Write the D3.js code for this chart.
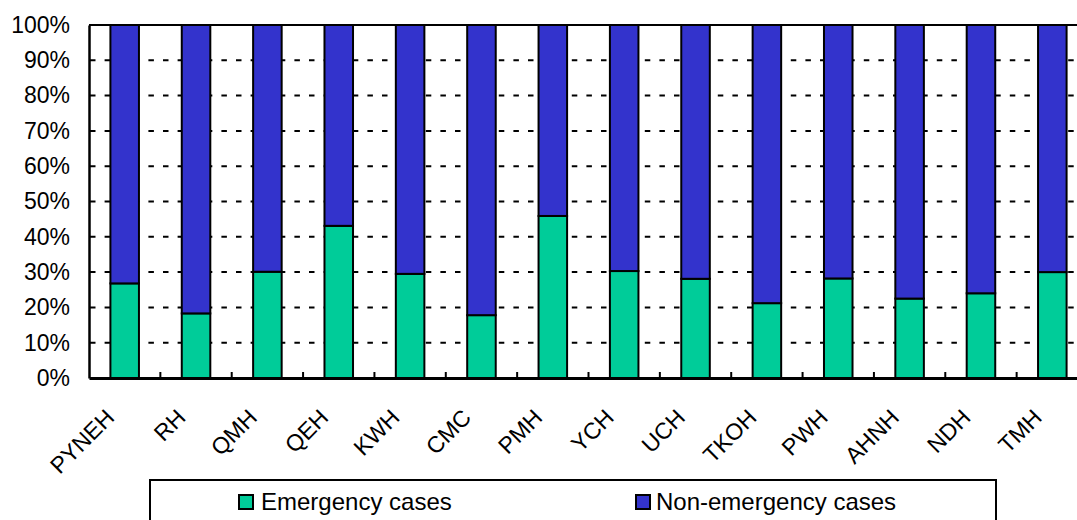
<!DOCTYPE html>
<html><head><meta charset="utf-8">
<script src="https://cdn.jsdelivr.net/npm/d3@7"></script>
<style>
html,body{margin:0;padding:0;background:#fff;}
svg{display:block;font-family:Arial,"Liberation Sans",sans-serif;}
</style></head>
<body><svg id="c" width="1077" height="520"></svg>
<script>
const categories = ["PYNEH","RH","QMH","QEH","KWH","CMC","PMH","YCH","UCH","TKOH","PWH","AHNH","NDH","TMH"];
const emergency = [26.8,18.3,30.1,43.1,29.5,17.8,45.9,30.3,28.1,21.2,28.2,22.5,24.0,30.0];
const nonEmergency = [73.2,81.7,69.9,56.9,70.5,82.2,54.1,69.7,71.9,78.8,71.8,77.5,76.0,70.0];
const yTicks = [0,10,20,30,40,50,60,70,80,90,100];
const seriesNames = ["Emergency cases","Non-emergency cases"];
const colors = ["#00CC99","#3333CC"];

const svg = d3.select("#c");
const L = 89, T = 25, B = 378, R = 1088;
const x = d3.scaleBand().domain(categories).range([L, R]).paddingInner(0.6).paddingOuter(0.3);
const y = d3.scaleLinear().domain([0,100]).range([B, T]);
const step = x.step();

const rows = categories.map((c,i)=>({cat:c, e:emergency[i], n:nonEmergency[i]}));
const stacked = d3.stack().keys(["e","n"])(rows);

// gridlines
svg.append("g").selectAll("line").data(yTicks.filter(t=>t>0 && t<100)).join("line")
  .attr("x1", L).attr("x2", R).attr("y1", d=>y(d)).attr("y2", d=>y(d))
  .attr("stroke","#000").attr("stroke-width",2).attr("stroke-dasharray","5.5,9.1")
  .attr("stroke-dashoffset",-1);

// bars
svg.append("g").selectAll("g").data(stacked).join("g")
  .attr("fill",(d,i)=>colors[i])
  .selectAll("rect").data(d=>d).join("rect")
  .attr("x", d=>x(d.data.cat)).attr("width", x.bandwidth())
  .attr("y", d=>y(d[1])).attr("height", d=>y(d[0])-y(d[1]))
  .attr("stroke","#000").attr("stroke-width",2);

// top line
svg.append("line").attr("x1",L).attr("x2",R).attr("y1",y(100)).attr("y2",y(100))
  .attr("stroke","#000").attr("stroke-width",2);

// y axis
const ya = svg.append("g").attr("transform",`translate(${L},0)`)
  .call(d3.axisLeft(y).tickValues(yTicks).tickSize(0).tickPadding(19).tickFormat(d=>d+"%"));
ya.select(".domain").attr("stroke","#000").attr("stroke-width",2.5);
ya.selectAll("text").attr("font-size",23).attr("font-family","Arial, 'Liberation Sans', sans-serif").attr("fill","#000");

// x axis
const xa = svg.append("g").attr("transform",`translate(0,${B})`)
  .call(d3.axisBottom(x).tickSize(0).tickFormat(""));
xa.select(".domain").attr("stroke","#000").attr("stroke-width",3);
// boundary ticks (inside)
svg.append("g").selectAll("line").data(categories.slice(0,-1)).join("line")
  .attr("x1", d=>x(d)+x.bandwidth()/2+step/2).attr("x2", d=>x(d)+x.bandwidth()/2+step/2)
  .attr("y1", B).attr("y2", B-6).attr("stroke","#000").attr("stroke-width",2);
// labels
svg.append("g").selectAll("text").data(categories).join("text")
  .attr("transform", d=>`translate(${x(d)+x.bandwidth()/2-9},419) rotate(-45)`)
  .attr("text-anchor","end").attr("font-size",23).attr("fill","#000").text(d=>d);

// legend
const lg = svg.append("g");
lg.append("rect").attr("x",150).attr("y",480).attr("width",846).attr("height",60)
  .attr("fill","#fff").attr("stroke","#000").attr("stroke-width",2);
const legX = [239, 636];
const legT = [261, 656];
seriesNames.forEach((s,i)=>{
  lg.append("rect").attr("x",legX[i]).attr("y",495).attr("width",14).attr("height",14)
    .attr("fill",colors[i]).attr("stroke","#000").attr("stroke-width",2);
  lg.append("text").attr("x",legT[i]).attr("y",510).attr("font-size",24)
    .attr("fill","#000").text(s);
});
</script></body></html>
